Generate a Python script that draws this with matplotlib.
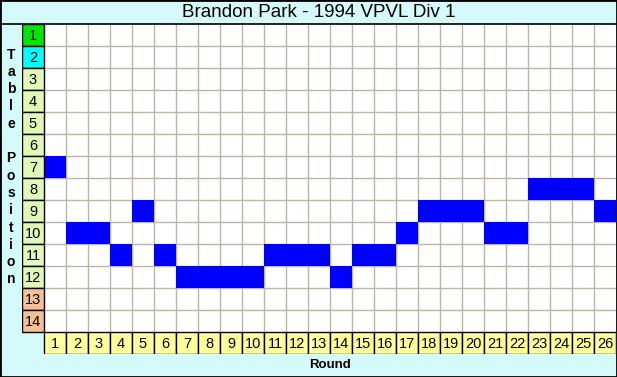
import numpy as np
import matplotlib.pyplot as plt
from matplotlib.patches import Rectangle
from matplotlib.lines import Line2D

# datos: posicion en la tabla por fecha
rounds = list(range(1, 27))
positions = [7, 10, 10, 11, 9, 11, 12, 12, 12, 12, 11, 11, 11, 12, 11, 11, 10, 9, 9, 9, 10, 10, 8, 8, 8, 9]
table_rows = list(range(1, 15))
row_colors = ['#00E600', '#00FFFF'] + ['#E2F8B6'] * 10 + ['#F4C090'] * 2

title = "Brandon Park - 1994 VPVL Div 1"
bg = '#D4FAFA'

W, H = 617, 377
fig = plt.figure(figsize=(W / 100, H / 100), dpi=100, facecolor=bg)

# ejes: columna de etiquetas en x=0, fila de rondas en y=15
ax = fig.add_axes([22 / W, (H - 354) / H, 594 / W, 330 / H])
ax.set_xlim(-0.5, 26.5)
ax.set_ylim(15.5, 0.5)
ax.axis('off')

# zona blanca + grilla
ax.add_patch(Rectangle((0.5, 0.5), 26, 14, facecolor='white', edgecolor='none', zorder=0))
ax.vlines(np.arange(1.5, 26.5, 1), 0.5, 14.5, color='#BDB5A5', linewidth=1, zorder=1)
ax.hlines(np.arange(1.5, 14.5, 1), 0.5, 26.5, color='#BDB5A5', linewidth=1, zorder=1)

# posiciones (celdas azules)
ax.bar(rounds, 1, bottom=np.array(positions) - 0.5, width=1, color='#0000FF', linewidth=0, zorder=2)

# etiquetas de posicion
ax.bar(np.zeros(len(table_rows)), 1, bottom=np.array(table_rows) - 0.5, width=1,
       color=row_colors, edgecolor='black', linewidth=1, zorder=3)
for p in table_rows:
    ax.text(0, p + 0.05, str(p), ha='center', va='center', fontsize=10.5,
            family='Liberation Sans', zorder=4)

# etiquetas de rondas
ax.bar(rounds, 1, bottom=14.5, width=1, color='#FFFF99', edgecolor='black', linewidth=1, zorder=3)
for r in rounds:
    ax.text(r, 15.05, str(r), ha='center', va='center', fontsize=10.5,
            family='Liberation Sans', zorder=4)

# titulo y textos de ejes
fig.text(319 / W, 1 - 12.5 / H, title, ha='center', va='center', fontsize=13.5, family='Liberation Sans')
fig.add_artist(Line2D([0, 1], [1 - 24 / H, 1 - 24 / H], color='black', linewidth=1.2))
fig.text(330 / W, 1 - 365 / H, "Round", ha='center', va='center', fontsize=9.5,
         fontweight='bold', family='Liberation Sans')
fig.text(11 / W, 1 - 167 / H, "T\na\nb\nl\ne\n\nP\no\ns\ni\nt\ni\no\nn", ha='center', va='center',
         fontsize=10, fontweight='bold', family='Liberation Sans', linespacing=1.3)

# borde exterior
fig.add_artist(Rectangle((0, 0), 1, 1, transform=fig.transFigure, fill=False,
                         edgecolor='black', linewidth=2))

fig.savefig('out.png', dpi=100, facecolor=bg)
